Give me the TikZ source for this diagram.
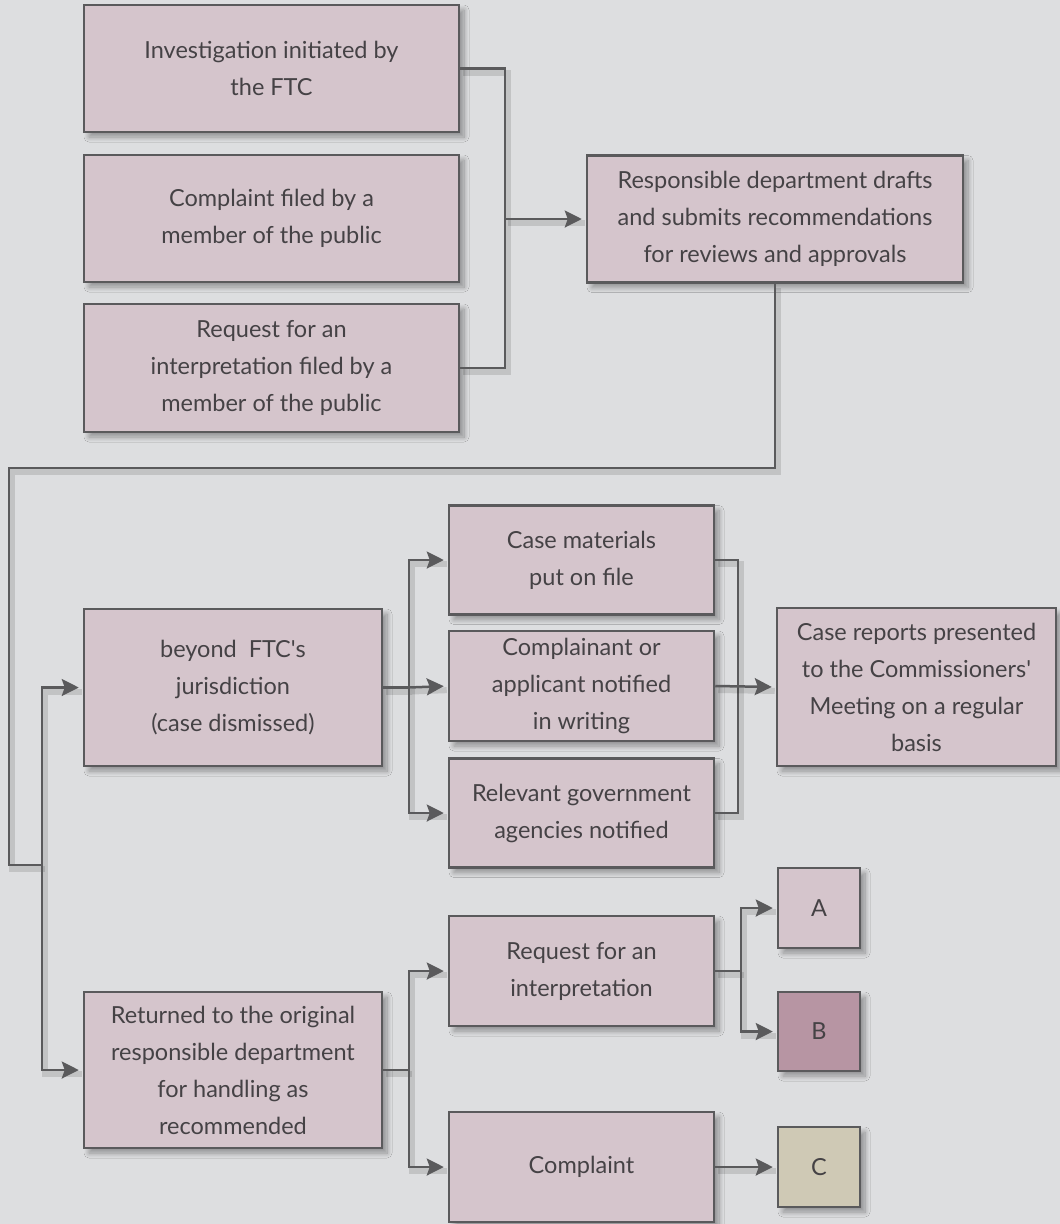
\documentclass[tikz,border=0pt]{standalone}
\usepackage{fontspec}
\setmainfont{Lato}
\usetikzlibrary{arrows.meta,shadows.blur,calc}
\definecolor{bgc}{HTML}{DDDEE0}
\definecolor{boxc}{HTML}{D5C5CC}
\definecolor{boxb}{HTML}{B795A3}
\definecolor{boxcc}{HTML}{CFC9B5}
\definecolor{edgec}{HTML}{5A5A5C}
\definecolor{txtc}{HTML}{454245}
\tikzset{
  stagebox/.style={draw=edgec, line width=2.5pt, fill=boxc, inner sep=0pt,
    align=center, text=txtc, font=\fontsize{23.5}{37}\selectfont,
    blur shadow={shadow xshift=5pt, shadow yshift=-5pt, shadow blur radius=5pt, shadow blur steps=10, shadow opacity=35}},
  conn/.style={draw=edgec, line width=2.5pt,
    preaction={draw=black, draw opacity=0.12, line width=6pt, arrows=-, transform canvas={shift={(3pt,-4pt)}}}},
  arr/.style={conn, -{Stealth[length=17pt,width=17pt,inset=3pt]}, shorten >=4pt}
}
\begin{document}
\begin{tikzpicture}[x=1pt,y=-1pt]
\fill[bgc] (0,0) rectangle (1060,1224);
\useasboundingbox (0,0) rectangle (1060,1224);
% helper coordinates
\coordinate (b1) at (505,0);
\coordinate (t1) at (9,468);
\coordinate (t2) at (9,865);
\coordinate (t3) at (42,865);
\coordinate (b2) at (409,0);
\coordinate (b3) at (738,0);
\coordinate (b4) at (741,0);
% top sources
\node[stagebox, minimum width=375pt, minimum height=127pt] (n1) at (271.5,68.5) {Investigation initiated by\\the FTC};
\node[stagebox, minimum width=375pt, minimum height=127pt] (n2) at (271.5,218.5) {Complaint filed by a\\member of the public};
\node[stagebox, minimum width=375pt, minimum height=128pt] (n3) at (271.5,368) {Request for an\\interpretation filed by a\\member of the public};
\node[stagebox, minimum width=376pt, minimum height=127pt] (n4) at (775,219) {Responsible department drafts\\and submits recommendations\\for reviews and approvals};
% second level
\node[stagebox, minimum width=298pt, minimum height=157pt] (bey) at (233,687.5) {beyond\ \ FTC\textquotesingle s\\jurisdiction\\(case dismissed)};
\node[stagebox, minimum width=298pt, minimum height=156pt] (ret) at (233,1070) {Returned to the original\\responsible department\\for handling as\\recommended};
% middle column
\node[stagebox, minimum width=265pt, minimum height=109pt] (cm) at (581.5,560) {Case materials\\put on file};
\node[stagebox, minimum width=265pt, minimum height=110pt] (ca) at (581.5,686) {Complainant or\\applicant notified\\in writing};
\node[stagebox, minimum width=265pt, minimum height=109pt] (rg) at (581.5,813) {Relevant government\\agencies notified};
\node[stagebox, minimum width=279pt, minimum height=158pt] (cr) at (916.5,687) {Case reports presented\\to the Commissioners\textquotesingle\\Meeting on a regular\\basis};
% bottom
\node[stagebox, minimum width=265pt, minimum height=110pt] (rq) at (581.5,971) {Request for an\\interpretation};
\node[stagebox, minimum width=265pt, minimum height=110pt] (co) at (581.5,1167) {Complaint};
\node[stagebox, minimum width=82pt, minimum height=80pt] (A) at (819,908) {A};
\node[stagebox, fill=boxb, minimum width=82pt, minimum height=79pt] (B) at (819,1031.5) {B};
\node[stagebox, fill=boxcc, minimum width=82pt, minimum height=80pt] (C) at (819,1167) {C};
% connectors
\draw[conn] (n1.east) -| (b1 |- n3.east) -- (n3.east);
\draw[arr] (b1 |- n4.west) -- (n4.west);
\draw[conn] (n4.south) |- (t1) -- (t2) -- (t3);
\draw[arr] (t3) |- (bey.west);
\draw[arr] (t3) |- (ret.west);
\draw[conn] (bey.east) -- (b2 |- bey.east);
\draw[arr] (b2 |- bey.east) |- (cm.west);
\draw[arr] (b2 |- bey.east) |- (rg.west);
\draw[arr] (b2 |- bey.east) -- (ca.west);
\draw[conn] (cm.east) -| (b3 |- rg.east) -- (rg.east);
\draw[arr] (ca.east) -- (cr.west);
\draw[conn] (ret.east) -- (b2 |- ret.east);
\draw[arr] (b2 |- ret.east) |- (rq.west);
\draw[arr] (b2 |- ret.east) |- (co.west);
\draw[conn] (rq.east) -- (b4 |- rq.east);
\draw[arr] (b4 |- rq.east) |- (A.west);
\draw[arr] (b4 |- rq.east) |- (B.west);
\draw[arr] (co.east) -- (C.west);
\end{tikzpicture}
\end{document}
